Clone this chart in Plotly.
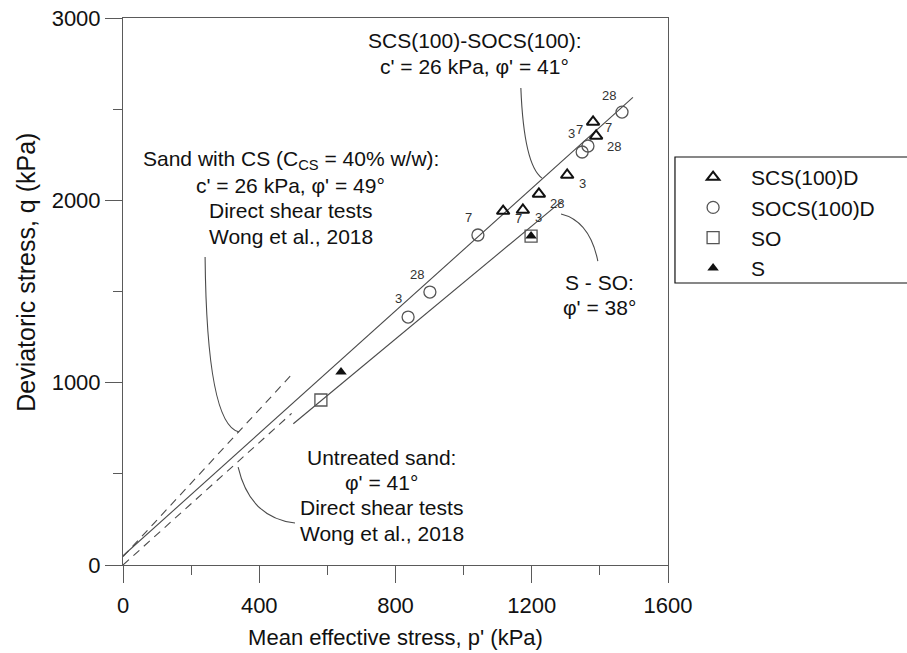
import numpy as np
import plotly.graph_objects as go

# ---- test data: mean effective stress p' and deviatoric stress q (kPa) ----
scs_p = [1116, 1174, 1221, 1304, 1380, 1389]
scs_q = [1941, 1947, 2035, 2139, 2430, 2353]
socs_p = [837, 901, 1042, 1348, 1365, 1465]
socs_q = [1360, 1497, 1810, 2265, 2298, 2484]
so_p = [581, 1198]
so_q = [905, 1804]
s_p = [640, 1198]
s_q = [1058, 1804]

# curing-age labels (days) next to points
age_text = ["28", "3", "7", "7", "28", "3", "28", "7", "3", "7", "28", "3"]
age_p = [1427, 1318, 1339, 1424, 1441, 1348, 1274, 1160, 1221, 1013, 863, 810]
age_q = [2577, 2369, 2391, 2398, 2296, 2095, 1985, 1903, 1908, 1908, 1596, 1459]

# failure envelopes: (c' kPa, phi' deg, p start, p end, dash)
envelopes = [
    (26, 41, 0, 1497, "solid"),   # SCS(100)-SOCS(100)
    (0, 38, 500, 1290, "solid"),  # S - SO
    (26, 49, 0, 495, "dash"),     # sand with CS, direct shear
    (0, 41, 0, 495, "dash"),      # untreated sand, direct shear
]

x_ticks = [0, 400, 800, 1200, 1600]
y_ticks = [0, 1000, 2000, 3000]

FONT = "Arial, Liberation Sans, sans-serif"
AX = "#5a5a5a"
LINE = "#4a4a4a"

fig = go.Figure()

for c, phi, p0, p1, dash in envelopes:
    s = np.sin(np.radians(phi))
    M = 6 * s / (3 - s)
    q0 = 6 * c * np.cos(np.radians(phi)) / (3 - s)
    p = np.array([p0, p1])
    fig.add_trace(go.Scatter(x=p, y=q0 + M * p, mode="lines", showlegend=False,
                             hoverinfo="skip",
                             line=dict(color=LINE, width=1.1,
                                       dash="solid" if dash == "solid" else "8px,6px")))

fig.add_trace(go.Scatter(x=scs_p, y=scs_q, mode="markers", name="SCS(100)D",
                         marker=dict(symbol="triangle-up-open", size=11,
                                     color="#111111", line=dict(width=2, color="#111111"))))
fig.add_trace(go.Scatter(x=socs_p, y=socs_q, mode="markers", name="SOCS(100)D",
                         marker=dict(symbol="circle-open", size=12,
                                     color="#555555", line=dict(width=1.3, color="#555555"))))
fig.add_trace(go.Scatter(x=so_p, y=so_q, mode="markers", name="SO",
                         marker=dict(symbol="square-open", size=12,
                                     color="#555555", line=dict(width=1.3, color="#555555"))))
fig.add_trace(go.Scatter(x=s_p, y=s_q, mode="markers", name="S",
                         marker=dict(symbol="triangle-up", size=10, color="#111111")))

annotations = []
for t, px_, qy in zip(age_text, age_p, age_q):
    annotations.append(dict(x=px_, y=qy, text=t, showarrow=False,
                            font=dict(size=13, color="#333333", family=FONT)))

# text blocks: (centre p, first-line q, lines); lines step down by LINE_STEP in q
LINE_STEP = 139
blocks = [
    (1032, 2874, ["SCS(100)-SOCS(100):", "c' = 26 kPa, φ' = 41°"]),
    (493, 2221, ["Sand with CS (C<sub>CS</sub> = 40% w/w):", "c' = 26 kPa, φ' = 49°",
                 "Direct shear tests", "Wong et al., 2018"]),
    (1398, 1552, ["S - SO:", "φ' = 38°"]),
    (759, 592, ["Untreated sand:", "φ' = 41°", "Direct shear tests",
                "Wong et al., 2018"]),
]
for x, y, lines in blocks:
    for i, t in enumerate(lines):
        annotations.append(dict(x=x, y=y - i * LINE_STEP, text=t, showarrow=False,
                                xanchor="center", yanchor="middle",
                                font=dict(size=21, color="#111111", family=FONT)))

# y-axis title
annotations.append(dict(x=-0.178, y=0.536, xref="paper", yref="paper",
                        text="Deviatoric stress, q (kPa)", textangle=-90,
                        showarrow=False, xanchor="center", yanchor="middle",
                        font=dict(size=25, color="#111111", family=FONT)))

# curved leader lines from each text block to its envelope
leaders = [
    ((1168, 2616), (1177, 2194), (1230, 2122)),
    ((1286, 1925), (1370, 1887), (1394, 1667)),
    ((241, 1689), (246, 768), (341, 729)),
    ((338, 537), (373, 258), (505, 230)),
]
shapes = []
for (x0, y0), (cx, cy), (x1, y1) in leaders:
    shapes.append(dict(type="path", xref="x", yref="y",
                       path=f"M {x0},{y0} Q {cx},{cy} {x1},{y1}",
                       line=dict(color=LINE, width=1.1)))

# legend frame, running off the right edge of the page
shapes.append(dict(type="rect", xref="paper", yref="paper",
                   x0=1.0128, x1=1.5, y0=0.5155, y1=0.7459,
                   line=dict(color="#111111", width=1.2), fillcolor="rgba(0,0,0,0)"))

fig.update_layout(
    width=907, height=653,
    margin=dict(l=123, r=239, t=18, b=88, autoexpand=False),
    paper_bgcolor="white", plot_bgcolor="white",
    font=dict(family=FONT, size=21, color="#111111"),
    annotations=annotations, shapes=shapes,
    legend=dict(x=1.013, y=0.746, xanchor="left", yanchor="top",
                borderwidth=0, bgcolor="rgba(0,0,0,0)",
                font=dict(size=21, family=FONT, color="#111111"),
                itemwidth=66, tracegroupgap=0),
    xaxis=dict(range=[0, 1600], tickvals=x_ticks, ticktext=[str(v) for v in x_ticks],
               ticks="outside", ticklen=17, tickcolor=AX, tickwidth=1,
               ticklabelstandoff=4,
               showline=True, linecolor=AX, linewidth=1, mirror=True,
               showgrid=False, zeroline=False,
               minor=dict(ticks="outside", ticklen=9, tickcolor=AX, dtick=200, tick0=0,
                          showgrid=False),
               title=dict(text="Mean effective stress, p' (kPa)", standoff=12,
                          font=dict(size=22)),
               tickfont=dict(size=22)),
    yaxis=dict(range=[0, 3000], tickvals=y_ticks, ticktext=[str(v) for v in y_ticks],
               ticks="outside", ticklen=17, tickcolor=AX, tickwidth=1,
               showline=True, linecolor=AX, linewidth=1, mirror=True,
               showgrid=False, zeroline=False,
               minor=dict(ticks="outside", ticklen=9, tickcolor=AX, dtick=500, tick0=0,
                          showgrid=False),
               tickfont=dict(size=22)),
)

fig.write_html("out.html")
